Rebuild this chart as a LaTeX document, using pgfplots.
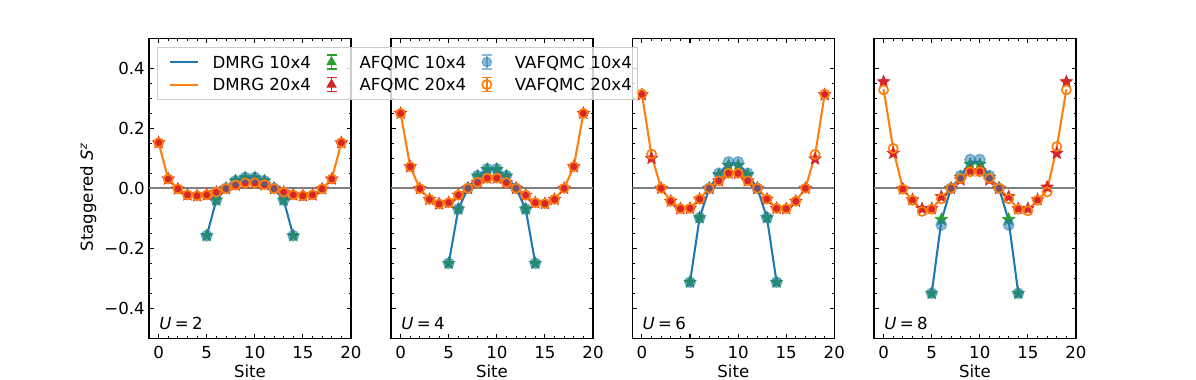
\documentclass[border=0pt]{standalone}
\usepackage{fontspec}
\setmainfont{DejaVu Sans}
\usepackage{pgfplots}
\pgfplotsset{compat=1.18}
\usepackage{pgfplotstable}
\definecolor{c0}{RGB}{31,119,180}
\definecolor{c1}{RGB}{255,127,14}
\definecolor{c2}{RGB}{44,160,44}
\definecolor{c3}{RGB}{214,39,40}
\definecolor{zgray}{RGB}{128,128,128}
\definecolor{lgray}{RGB}{204,204,204}
\newcommand{\fs}{\fontsize{12}{14.4}\selectfont}

\pgfdeclareplotmark{fstar}{%
  \pgfpathmoveto{\pgfpointpolar{90}{\pgfplotmarksize}}%
  \pgfpathlineto{\pgfpointpolar{126}{0.45\pgfplotmarksize}}%
  \pgfpathlineto{\pgfpointpolar{162}{\pgfplotmarksize}}%
  \pgfpathlineto{\pgfpointpolar{198}{0.45\pgfplotmarksize}}%
  \pgfpathlineto{\pgfpointpolar{234}{\pgfplotmarksize}}%
  \pgfpathlineto{\pgfpointpolar{270}{0.45\pgfplotmarksize}}%
  \pgfpathlineto{\pgfpointpolar{306}{\pgfplotmarksize}}%
  \pgfpathlineto{\pgfpointpolar{342}{0.45\pgfplotmarksize}}%
  \pgfpathlineto{\pgfpointpolar{18}{\pgfplotmarksize}}%
  \pgfpathlineto{\pgfpointpolar{54}{0.45\pgfplotmarksize}}%
  \pgfpathclose
  \pgfusepathqfillstroke
}

% ---------- U = 2 ----------
\pgfplotstableread{
x dmrg af va
0 0.152 0.152 0.152
1 0.031 0.031 0.031
2 -0.002 -0.002 -0.002
3 -0.022 -0.022 -0.022
4 -0.025 -0.025 -0.025
5 -0.022 -0.022 -0.022
6 -0.013 -0.013 -0.013
7 -0.001 -0.001 -0.001
8 0.011 0.011 0.011
9 0.018 0.018 0.018
10 0.018 0.018 0.018
11 0.012 0.012 0.012
12 -0.001 -0.001 -0.001
13 -0.013 -0.013 -0.013
14 -0.022 -0.022 -0.022
15 -0.025 -0.025 -0.025
16 -0.022 -0.022 -0.022
17 -0.002 -0.002 -0.002
18 0.031 0.031 0.031
19 0.152 0.152 0.152
}\tAtw
\pgfplotstableread{
x dmrg af va
5 -0.158 -0.158 -0.158
6 -0.039 -0.039 -0.039
7 0.000 0.000 0.000
8 0.025 0.025 0.025
9 0.035 0.035 0.036
10 0.035 0.035 0.036
11 0.025 0.025 0.025
12 0.000 0.000 0.000
13 -0.039 -0.039 -0.039
14 -0.158 -0.158 -0.158
}\tAte
% ---------- U = 4 ----------
\pgfplotstableread{
x dmrg af va
0 0.250 0.250 0.250
1 0.072 0.072 0.072
2 -0.001 -0.001 -0.001
3 -0.037 -0.037 -0.037
4 -0.052 -0.052 -0.052
5 -0.048 -0.048 -0.048
6 -0.023 -0.023 -0.023
7 0.000 0.000 0.000
8 0.020 0.020 0.020
9 0.034 0.034 0.034
10 0.034 0.034 0.034
11 0.019 0.019 0.019
12 0.000 0.000 0.000
13 -0.023 -0.023 -0.023
14 -0.048 -0.048 -0.048
15 -0.051 -0.051 -0.051
16 -0.037 -0.037 -0.037
17 0.000 0.000 0.000
18 0.072 0.072 0.072
19 0.250 0.250 0.250
}\tBtw
\pgfplotstableread{
x dmrg af va
5 -0.250 -0.250 -0.250
6 -0.069 -0.069 -0.069
7 0.000 0.000 0.000
8 0.041 0.041 0.042
9 0.063 0.063 0.065
10 0.063 0.063 0.065
11 0.041 0.041 0.042
12 0.000 0.000 0.000
13 -0.069 -0.069 -0.069
14 -0.250 -0.250 -0.250
}\tBte
% ---------- U = 6 ----------
\pgfplotstableread{
x dmrg af va
0 0.314 0.312 0.314
1 0.110 0.100 0.114
2 0.000 0.000 0.000
3 -0.043 -0.043 -0.043
4 -0.068 -0.068 -0.068
5 -0.067 -0.067 -0.067
6 -0.036 -0.036 -0.036
7 0.000 0.000 0.000
8 0.025 0.025 0.025
9 0.050 0.050 0.050
10 0.050 0.050 0.050
11 0.025 0.025 0.025
12 0.000 0.000 0.000
13 -0.036 -0.036 -0.036
14 -0.067 -0.067 -0.067
15 -0.068 -0.068 -0.068
16 -0.043 -0.043 -0.043
17 0.000 0.000 0.000
18 0.110 0.098 0.113
19 0.314 0.312 0.314
}\tCtw
\pgfplotstableread{
x dmrg af va
5 -0.313 -0.313 -0.313
6 -0.098 -0.098 -0.098
7 0.000 0.000 0.000
8 0.047 0.045 0.050
9 0.083 0.076 0.088
10 0.083 0.076 0.088
11 0.047 0.045 0.050
12 0.000 0.000 0.000
13 -0.098 -0.098 -0.098
14 -0.313 -0.313 -0.313
}\tCte
% ---------- U = 8 ----------
\pgfplotstableread{
x dmrg af va
0 0.330 0.355 0.328
1 0.130 0.117 0.133
2 -0.002 -0.002 -0.003
3 -0.040 -0.038 -0.040
4 -0.073 -0.068 -0.077
5 -0.069 -0.068 -0.070
6 -0.033 -0.028 -0.035
7 0.000 0.000 0.000
8 0.032 0.028 0.033
9 0.055 0.058 0.055
10 0.055 0.058 0.055
11 0.032 0.028 0.033
12 0.000 0.000 0.000
13 -0.033 -0.028 -0.035
14 -0.069 -0.068 -0.070
15 -0.072 -0.068 -0.075
16 -0.040 -0.038 -0.040
17 -0.006 0.004 -0.012
18 0.135 0.117 0.139
19 0.330 0.355 0.328
}\tDtw
\pgfplotstableread{
x dmrg af va
5 -0.350 -0.350 -0.350
6 -0.108 -0.104 -0.122
7 0.000 0.000 0.000
8 0.039 0.037 0.042
9 0.089 0.080 0.096
10 0.089 0.080 0.096
11 0.039 0.037 0.042
12 0.000 0.000 0.000
13 -0.108 -0.104 -0.122
14 -0.350 -0.350 -0.350
}\tDte

\pgfplotsset{
  panel/.style={
    scale only axis, width=2.02in, height=3in,
    xmin=-1, xmax=20, ymin=-0.5, ymax=0.5,
    xtick={0,5,10,15,20}, xticklabels={0,5,10,15,20},
    minor x tick num=4,
    ytick={-0.4,-0.2,0,0.2,0.4},
    minor y tick num=3,
    tick align=inside, xtick pos=both, ytick pos=both,
    xticklabel pos=lower, yticklabel pos=left,
    major tick length=0.045in, minor tick length=0.025in,
    major tick style={black, line width=0.8pt},
    minor tick style={black, line width=0.6pt},
    axis line style={black, line width=0.8pt},
    tick label style={font=\fs},
    xticklabel style={yshift=-2.5pt},
    yticklabel style={xshift=0.5pt},
    /pgf/number format/assume math mode=true,
    xlabel={Site},
    xlabel style={at={(axis description cs:0.5,-0.111)}, anchor=center, font=\fs},
  },
  zline/.style={zgray, line width=1.5pt, forget plot},
  dmrgA/.style={c0, line width=1.5pt, forget plot},
  dmrgB/.style={c1, line width=1.5pt, forget plot},
  afA/.style={only marks, mark=fstar, mark size=4.6pt, mark options={fill=c2, draw=c2, line width=0.5pt}, forget plot},
  afB/.style={only marks, mark=fstar, mark size=4.6pt, mark options={fill=c3, draw=c3, line width=0.5pt}, forget plot},
  vaA/.style={only marks, mark=*, mark size=3.8pt, mark options={fill=c0, draw=c0, opacity=0.5, line width=1pt}, forget plot},
  vaB/.style={only marks, mark=o, mark size=3.3pt, mark options={draw=c1, fill=none, line width=1.2pt}, forget plot},
}

\newcommand{\panelplots}[2]{%
  \addplot[zline] coordinates {(-1,0) (20,0)};
  \addplot[dmrgA] table[x=x, y=dmrg] {#2};
  \addplot[dmrgB] table[x=x, y=dmrg] {#1};
  \addplot[afA] table[x=x, y=af] {#2};
  \addplot[afB] table[x=x, y=af] {#1};
  \addplot[vaA] table[x=x, y=va] {#2};
  \addplot[vaB] table[x=x, y=va] {#1};
}
\newcommand{\ulabel}[1]{\node[anchor=base west, inner sep=0pt, font=\fs] at (rel axis cs:0.05,0.028) {\textit{U}\hspace{0.2em}=\hspace{0.2em}#1};}

\begin{document}
\begin{tikzpicture}
\path[use as bounding box] (0,0) rectangle (11.96in,3.80in);

\begin{axis}[panel, at={(1.49in,0.417in)}, anchor=south west,
  yticklabels={−0.4,−0.2,0.0,0.2,0.4},
  ylabel={Staggered \textit{S}\textsuperscript{\textit{z}}},
  ylabel style={at={(axis description cs:-0.30,0.47)}, anchor=center, font=\fs}]
\panelplots{\tAtw}{\tAte}
\ulabel{2}
\end{axis}

\begin{axis}[panel, at={(3.91in,0.417in)}, anchor=south west, yticklabels={}]
\panelplots{\tBtw}{\tBte}
\ulabel{4}
\end{axis}

\begin{axis}[panel, at={(6.323in,0.417in)}, anchor=south west, yticklabels={}]
\panelplots{\tCtw}{\tCte}
\ulabel{6}
\end{axis}

\begin{axis}[panel, at={(8.74in,0.417in)}, anchor=south west, yticklabels={},
  legend columns=3, legend cell align=left,
  legend style={at={(-3.5495,0.971)}, anchor=north west,
    draw=lgray, line width=0.8pt, fill=white, fill opacity=0.8, text opacity=1,
    font=\fs,
    inner xsep=0.06in, inner ysep=4.1pt, row sep=3.5pt,
    nodes={inner xsep=0pt, inner ysep=2pt, text height=8.8pt, text depth=0pt},
    /tikz/every odd column/.style={column sep=0.135in},
    /tikz/every even column/.style={column sep=0.0in}}]
\panelplots{\tDtw}{\tDte}
\ulabel{8}
\addlegendimage{legend image code/.code={
  \path (0,0) (0.34in,0);
  \draw[c0, line width=1.5pt, fill opacity=1] (0.06in,0) -- (0.34in,0);}}
\addlegendentry{DMRG 10x4}
\addlegendimage{legend image code/.code={
  \path (0,0) (0.34in,0);
  \draw[c2, line width=1pt, draw opacity=1] (0.20in,-0.07in) -- (0.20in,0.07in)
     (0.15in,-0.07in) -- (0.25in,-0.07in) (0.15in,0.07in) -- (0.25in,0.07in);
  \draw[mark=triangle*, mark size=3.6pt, mark options={fill=c2, draw=c2, fill opacity=1, draw opacity=1}] plot coordinates {(0.20in,0)};}}
\addlegendentry{AFQMC 10x4}
\addlegendimage{legend image code/.code={
  \path (0,0) (0.34in,0);
  \draw[c0, line width=1pt, draw opacity=0.5] (0.20in,-0.07in) -- (0.20in,0.07in)
     (0.15in,-0.07in) -- (0.25in,-0.07in) (0.15in,0.07in) -- (0.25in,0.07in);
  \draw[mark=*, mark size=3.4pt, mark options={fill=c0, draw=c0, opacity=0.5}] plot coordinates {(0.20in,0)};}}
\addlegendentry{VAFQMC 10x4}
\addlegendimage{legend image code/.code={
  \path (0,0) (0.34in,0);
  \draw[c1, line width=1.5pt, fill opacity=1] (0.06in,0) -- (0.34in,0);}}
\addlegendentry{DMRG 20x4}
\addlegendimage{legend image code/.code={
  \path (0,0) (0.34in,0);
  \draw[c3, line width=1pt, draw opacity=1] (0.20in,-0.07in) -- (0.20in,0.07in)
     (0.15in,-0.07in) -- (0.25in,-0.07in) (0.15in,0.07in) -- (0.25in,0.07in);
  \draw[mark=triangle*, mark size=3.6pt, mark options={fill=c3, draw=c3, fill opacity=1, draw opacity=1}] plot coordinates {(0.20in,0)};}}
\addlegendentry{AFQMC 20x4}
\addlegendimage{legend image code/.code={
  \path (0,0) (0.34in,0);
  \draw[c1, line width=1pt, draw opacity=1] (0.20in,-0.07in) -- (0.20in,0.07in)
     (0.15in,-0.07in) -- (0.25in,-0.07in) (0.15in,0.07in) -- (0.25in,0.07in);
  \draw[mark=o, mark size=3.3pt, mark options={draw=c1, line width=1.2pt, fill=white, fill opacity=1, draw opacity=1}] plot coordinates {(0.20in,0)};}}
\addlegendentry{VAFQMC 20x4}
\end{axis}
\end{tikzpicture}
\end{document}
